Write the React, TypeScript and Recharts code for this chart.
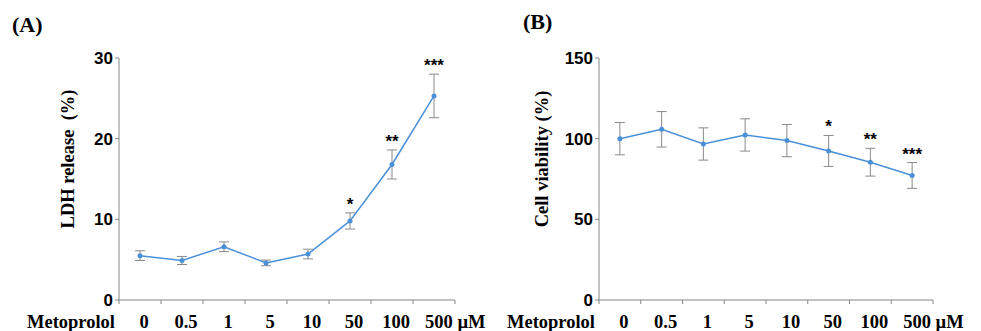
import React from 'react';
import { LineChart, Line, XAxis, YAxis, ErrorBar, LabelList } from 'recharts';

const doses = ['0', '0.5', '1', '5', '10', '50', '100', '500'];
const ldhMean = [5.5, 4.9, 6.6, 4.6, 5.7, 9.8, 16.8, 25.3];
const ldhErr = [0.6, 0.5, 0.6, 0.35, 0.6, 1.0, 1.8, 2.7];
const viabMean = [100, 105.8, 96.7, 102.3, 98.8, 92.4, 85.4, 77.2];
const viabErr = [10, 11, 10, 10, 10, 9.6, 8.6, 8];
const sig = ['', '', '', '', '', '*', '**', '***'];
const ldhTicks = [0, 10, 20, 30];
const viabTicks = [0, 50, 100, 150];

const xTicks = Array.from({ length: 17 }, (_, i) => i / 2);

const build = (mean: number[], err: number[]) =>
  mean.map((m, i) => ({ x: i + 0.5, mean: m, err: err[i], top: m + err[i], sig: sig[i] }));

const ldhData = build(ldhMean, ldhErr);
const viabData = build(viabMean, viabErr);

const BLUE = '#4a90d9';
const AXIS = '#868686';
const SERIF = '"Liberation Serif", "Times New Roman", serif';
const SANS = '"Liberation Sans", Arial, sans-serif';

const XTick = (props: any) => {
  const { x, y, payload } = props;
  const v = payload.value as number;
  if (Number.isInteger(v)) {
    return (
      <g>
        <line x1={x} y1={y} x2={x} y2={y + 4} stroke={AXIS} strokeWidth={1} />
        {v === 0 && (
          <text x={x - 4} y={y + 28} textAnchor="end" fontFamily={SERIF} fontWeight="bold" fontSize={18.5} fill="#000">
            Metoprolol
          </text>
        )}
      </g>
    );
  }
  const idx = Math.floor(v);
  const last = idx === doses.length - 1;
  if (last) {
    return (
      <text x={x - 9} y={y + 28} textAnchor="start" fontFamily={SERIF} fontWeight="bold" fontSize={18.5} fill="#000">
        {doses[idx] + ' \u00b5M'}
      </text>
    );
  }
  return (
    <text x={x + 4} y={y + 28} textAnchor="middle" fontFamily={SERIF} fontWeight="bold" fontSize={18.5} fill="#000">
      {doses[idx]}
    </text>
  );
};

const YLabel = ({ text, dx }: { text: string; dx: number }) => (props: any) => {
  const { viewBox } = props;
  const cx = viewBox.x + dx;
  const cy = viewBox.y + viewBox.height / 2 - 20;
  return (
    <text
      x={cx}
      y={cy}
      transform={`rotate(-90, ${cx}, ${cy})`}
      textAnchor="middle"
      dominantBaseline="central"
      fontFamily={SERIF}
      fontWeight="bold"
      fontSize={18.5}
      fill="#000"
    >
      {text}
    </text>
  );
};

const Panel = ({
  data,
  max,
  ticks,
  label,
  marginLeft,
  marginRight,
  width,
  labelDx,
}: {
  data: any[];
  max: number;
  ticks: number[];
  label: string;
  marginLeft: number;
  marginRight: number;
  width: number;
  labelDx: number;
}) => (
  <LineChart width={width} height={331} data={data} margin={{ top: 58, left: marginLeft, right: marginRight, bottom: 1 }}>
    <XAxis
      dataKey="x"
      type="number"
      domain={[0, 8]}
      ticks={xTicks}
      interval={0}
      height={30}
      stroke={AXIS}
      tickLine={false}
      tickSize={0}
      tickMargin={0}
      tick={<XTick />}
    />
    <YAxis
      type="number"
      domain={[0, max]}
      ticks={ticks}
      width={60}
      stroke={AXIS}
      tickSize={4}
      tickMargin={2}
      tick={{ fill: '#000', fontSize: 17, fontWeight: 'bold', fontFamily: SANS }}
      label={{ content: YLabel({ text: label, dx: labelDx }) } as any}
    />
    <Line
      dataKey="mean"
      stroke={BLUE}
      strokeWidth={1.5}
      dot={{ r: 2.5, fill: BLUE, stroke: BLUE, strokeWidth: 0 }}
      activeDot={false}
      isAnimationActive={false}
    >
      <ErrorBar dataKey="err" width={5} stroke="#8a8a8a" strokeWidth={1} direction="y" />
    </Line>
    <Line dataKey="top" stroke="none" dot={false} activeDot={false} isAnimationActive={false} legendType="none">
      <LabelList
        dataKey="sig"
        position="top"
        offset={3}
        fill="#000"
        fontSize={17}
        fontWeight="bold"
        fontFamily={SANS}
      />
    </Line>
  </LineChart>
);

export default function App() {
  return (
    <div style={{ position: 'absolute', left: 0, top: 0, width: 981, height: 331, background: '#fff' }}>
      <div style={{ position: 'absolute', left: 0, top: 0 }}>
        <Panel data={ldhData} max={30} ticks={ldhTicks} label={'LDH release\u00a0 (%)'} marginLeft={59} marginRight={35} width={490} labelDx={9} />
      </div>
      <div style={{ position: 'absolute', left: 490, top: 0 }}>
        <Panel data={viabData} max={150} ticks={viabTicks} label="Cell viability (%)" marginLeft={49} marginRight={48} width={491} labelDx={3} />
      </div>
      <div style={{ position: 'absolute', left: 12, top: 11, fontFamily: SERIF, fontWeight: 'bold', fontSize: 22, lineHeight: '28px' }}>(A)</div>
      <div style={{ position: 'absolute', left: 523, top: 8, fontFamily: SERIF, fontWeight: 'bold', fontSize: 22, lineHeight: '28px' }}>(B)</div>
    </div>
  );
}
